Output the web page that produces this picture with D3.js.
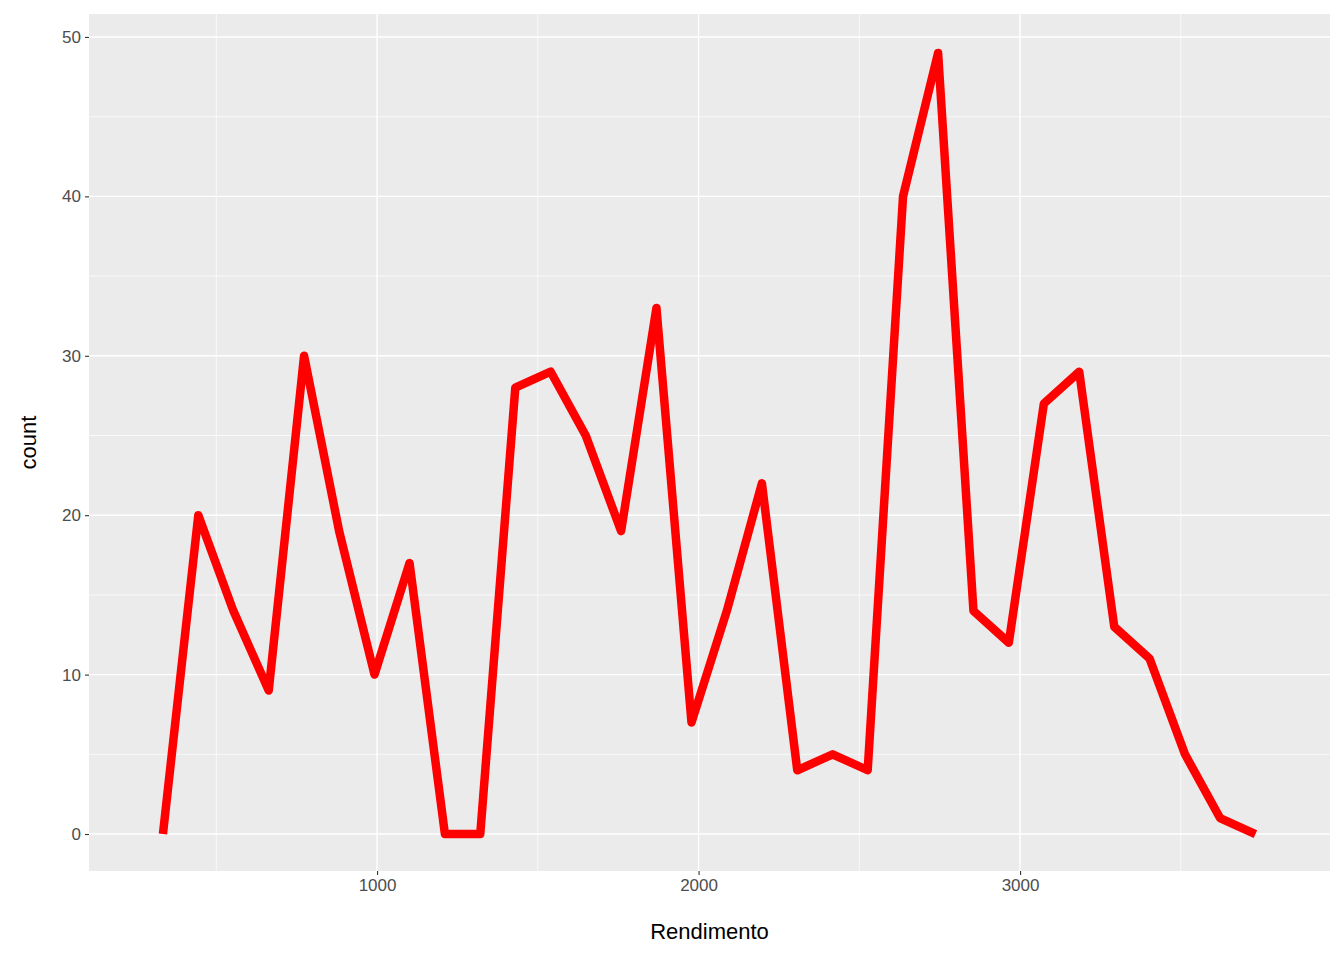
<!DOCTYPE html>
<html><head><meta charset="utf-8">
<script src="https://cdn.jsdelivr.net/npm/d3@7"></script>
<style>body{margin:0;background:#fff}text{font-family:"Liberation Sans",Arial,sans-serif}</style>
</head><body><div id="chart"></div>
<script>
// bin midpoints and counts
var rendimento = [334,444,553,663,773,882,992,1101,1211,1321,1430,1540,1649,1759,1869,1978,
                  2088,2197,2307,2417,2526,2636,2745,2855,2965,3074,3184,3293,3403,3513,3622,3732];
var counts = [0,20,14,9,30,19,10,17,0,0,28,29,25,19,33,7,14,22,4,5,4,40,49,14,12,27,29,13,11,5,1,0];
var xTicks = [1000,2000,3000];
var yTicks = [0,10,20,30,40,50];

var svgWidth = 1344, svgHeight = 960;
var panel = {left: 89, right: 1330, top: 14, bottom: 871};

var svg = d3.select("#chart").append("svg")
    .attr("width", svgWidth).attr("height", svgHeight);

var x = d3.scaleLinear().domain([104, 3964]).range([panel.left, panel.right]);
var y = d3.scaleLinear().domain([-2.32, 51.44]).range([panel.bottom, panel.top]);

svg.append("rect")
    .attr("x", panel.left).attr("y", panel.top)
    .attr("width", panel.right - panel.left).attr("height", panel.bottom - panel.top)
    .attr("fill", "#ebebeb");

// minor grid
var xMinor = [500,1500,2500,3500], yMinor = [5,15,25,35,45];
svg.selectAll(".xm").data(xMinor).enter().append("line")
    .attr("x1", d => x(d)).attr("x2", d => x(d)).attr("y1", panel.top).attr("y2", panel.bottom)
    .attr("stroke", "#fff").attr("stroke-width", 0.7);
svg.selectAll(".ym").data(yMinor).enter().append("line")
    .attr("y1", d => y(d)).attr("y2", d => y(d)).attr("x1", panel.left).attr("x2", panel.right)
    .attr("stroke", "#fff").attr("stroke-width", 0.7);
// major grid
svg.selectAll(".xg").data(xTicks).enter().append("line")
    .attr("x1", d => x(d)).attr("x2", d => x(d)).attr("y1", panel.top).attr("y2", panel.bottom)
    .attr("stroke", "#fff").attr("stroke-width", 1.4);
svg.selectAll(".yg").data(yTicks).enter().append("line")
    .attr("y1", d => y(d)).attr("y2", d => y(d)).attr("x1", panel.left).attr("x2", panel.right)
    .attr("stroke", "#fff").attr("stroke-width", 1.4);

var line = d3.line().x((d, i) => x(rendimento[i])).y(d => y(d));
svg.append("path").datum(counts)
    .attr("d", line).attr("fill", "none")
    .attr("stroke", "#ff0000").attr("stroke-width", 8.5).attr("stroke-linejoin", "round");

// axes
var bottomAxis = d3.axisBottom(x).tickValues(xTicks).tickSize(4).tickPadding(4).tickFormat(d3.format("d"));
var gx = svg.append("g").attr("transform", `translate(0,${panel.bottom})`).call(bottomAxis);
var leftAxis = d3.axisLeft(y).tickValues(yTicks).tickSize(4).tickPadding(4);
var gy = svg.append("g").attr("transform", `translate(${panel.left},0)`).call(leftAxis);
[gx, gy].forEach(g => {
  g.select(".domain").remove();
  g.selectAll("line").attr("stroke", "#333").attr("stroke-width", 1.1);
  g.selectAll("text").attr("fill", "#4d4d4d").style("font-size", "17px")
    .style("font-family", "'Liberation Sans',Arial,sans-serif");
});

svg.append("text").attr("x", (panel.left + panel.right) / 2).attr("y", 939)
    .attr("text-anchor", "middle").style("font-size", "22px").text("Rendimento");
svg.append("text").attr("transform", `translate(36,${(panel.top + panel.bottom) / 2}) rotate(-90)`)
    .attr("text-anchor", "middle").style("font-size", "22px").text("count");
</script></body></html>
